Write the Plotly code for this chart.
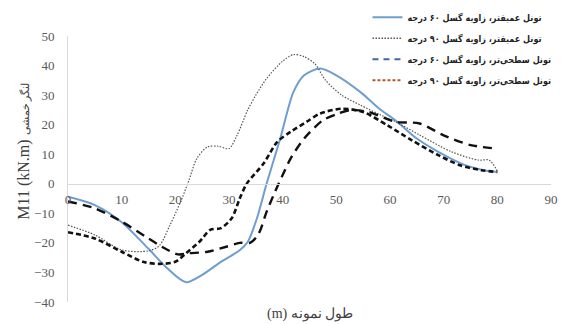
import plotly.graph_objects as go

# Sample position along the model (m)
x_deep60 = [0, 5, 10, 15, 18.5, 22, 25, 28.5, 32, 33.5, 35.2, 37, 39.5, 42, 44, 47, 50, 54.5, 58, 61, 65, 69, 74, 77.5, 80]
m_deep60 = [-4.4, -7.2, -13, -22, -28.6, -33.3, -30.8, -26.4, -22.5, -19.6, -11.7, 0, 15, 31, 36.7, 39, 36.7, 31, 25.4, 21.5, 15.3, 10.8, 6.3, 4.6, 4]

x_deep90 = [0, 5, 10, 15, 17, 19, 21, 22.5, 24, 26, 28, 30, 31.5, 33.5, 35, 37, 40, 42, 44, 46, 48, 51, 54.5, 58, 61, 65.5, 71.5, 76.5, 78.5, 80]
m_deep90 = [-14, -17.3, -22.4, -22.7, -21, -14, -6, 1, 8.5, 12.5, 12.7, 11.9, 16.4, 25, 30, 35.6, 41.5, 43.7, 43, 40.6, 35, 30, 26.6, 23.5, 21, 16.5, 10.8, 8, 8, 4.3]

x_shallow60 = [0, 5, 10, 15, 17.5, 20.5, 22.5, 26, 29.5, 32, 34, 35.5, 37, 38.5, 40, 41.5, 44, 47.5, 50, 52.5, 56, 61, 65.5, 70, 75, 80]
m_shallow60 = [-6, -8.3, -12.8, -18.5, -21.3, -23.9, -23.5, -23, -21.3, -20, -19.9, -17, -9.5, -3, 3, 8.6, 15.3, 21.5, 23.5, 24.9, 24.3, 21, 20.4, 16.4, 13.1, 11.9]

x_shallow90 = [0, 5, 10, 14, 17, 20, 22, 24.5, 26.5, 28.5, 30.5, 32, 33.3, 36.5, 39, 41.5, 44.5, 47, 51, 55, 59.5, 64, 69, 73, 77, 80]
m_shallow90 = [-16.4, -18.5, -23, -26.4, -27.1, -26.4, -23.5, -19.6, -15.6, -15, -11.7, -5, 0, 7, 14.2, 17.6, 21, 23.8, 25.4, 24.3, 19.8, 14.8, 9.7, 6.3, 4.6, 4]

series_names = [
    "تونل عمیقتر، زاویه گسل ۶۰ درجه",
    "تونل عمیقتر، زاویه گسل ۹۰ درجه",
    "تونل سطحی‌تر، زاویه گسل ۶۰ درجه",
    "تونل سطحی‌تر، زاویه گسل ۹۰ درجه",
]

x_ticks = [0, 10, 20, 30, 40, 50, 60, 70, 80, 90]
y_ticks = [-40, -30, -20, -10, 0, 10, 20, 30, 40, 50]

fig = go.Figure()

# Curves drawn on the plot
curve_styles = [
    (x_deep60, m_deep60, dict(color="#6E9ECF", width=2, dash="solid")),
    (x_deep90, m_deep90, dict(color="#555555", width=1.2, dash="1.5px,1.5px")),
    (x_shallow60, m_shallow60, dict(color="#111111", width=2.4, dash="9px,6px")),
    (x_shallow90, m_shallow90, dict(color="#111111", width=2.6, dash="5px,3px")),
]
for (xs, ys, ln) in curve_styles:
    fig.add_trace(go.Scatter(x=xs, y=ys, mode="lines", showlegend=False,
                             line=dict(shape="spline", smoothing=0.8, **ln)))

# Legend keys
legend_styles = [
    dict(color="#6E9ECF", width=2, dash="solid"),
    dict(color="#555555", width=1.3, dash="1.5px,1.5px"),
    dict(color="#3F6A9E", width=2, dash="6px,5px"),
    dict(color="#B5582F", width=2, dash="3px,2px"),
]
for i, (name, ln) in enumerate(zip(series_names, legend_styles)):
    fig.add_trace(go.Scatter(x=[None], y=[None], mode="lines", name=f"<b>{name}</b>",
                             legendgroup=f"g{i}", line=ln))

tick_font = dict(family="Liberation Serif", size=13, color="#595959")

fig.update_layout(
    width=564, height=324,
    margin=dict(l=67.5, r=13, t=36, b=22, autoexpand=False),
    paper_bgcolor="white", plot_bgcolor="white",
    showlegend=True,
    legend=dict(x=0.62, y=1.125, xanchor="left", yanchor="top",
                bgcolor="rgba(0,0,0,0)", itemwidth=30,
                font=dict(family="DejaVu Sans Condensed, DejaVu Sans", size=9, color="#222222"),
                tracegroupgap=2),
    xaxis=dict(range=[0, 90], tickvals=x_ticks, showgrid=False, zeroline=False,
               showline=True, linecolor="#d9d9d9", linewidth=1,
               anchor="free", position=40 / 90, ticks="",
               ticklabelstandoff=4, tickfont=tick_font),
    yaxis=dict(range=[-40, 50], tickvals=y_ticks, showgrid=False, zeroline=False,
               showline=True, linecolor="#d9d9d9", linewidth=1, domain=[0, 1],
               ticks="", ticklabelstandoff=10, tickfont=tick_font),
    annotations=[
        dict(text="M11 (kN.m) <span style='font-size:11px'>لنگر خمشی</span>",
             textangle=-90, xref="paper", yref="paper", x=0, y=0.565,
             xanchor="center", yanchor="middle", xshift=-44, showarrow=False,
             font=dict(family="Liberation Serif", size=16, color="#404040")),
        dict(text="(m) طول نمونه", xref="paper", yref="paper", x=0.5, y=0,
             xanchor="center", yanchor="middle", yshift=-12, showarrow=False,
             font=dict(family="Liberation Serif", size=14, color="#404040")),
    ],
)

fig.write_html("out.html")
